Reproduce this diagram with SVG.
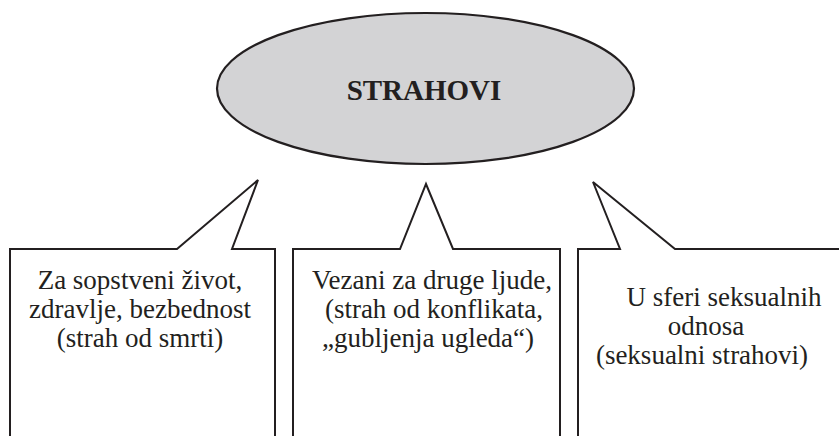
<svg xmlns="http://www.w3.org/2000/svg" width="839" height="436" viewBox="0 0 839 436">
<style>
.box{fill:#fff;stroke:#231f20;stroke-width:2;stroke-linejoin:miter}
.t{font-family:"Liberation Serif","Times New Roman",serif;font-size:27px;fill:#231f20;text-anchor:middle}
.title{font-family:"Liberation Serif","Times New Roman",serif;font-size:29px;font-weight:bold;fill:#231f20;text-anchor:middle}
</style>
<rect width="839" height="436" fill="#fff"/>
<g id="strahovi">
<ellipse cx="425.5" cy="88.5" rx="208.5" ry="75.5" fill="#d3d3d5" stroke="#231f20" stroke-width="2.2"/>
<text class="title" x="424" y="100">STRAHOVI</text>
</g>
<g id="connectors"></g>
<g id="box1">
<path class="box" d="M10,440 V249 H177 L258,180 L232,249 H275 V440"/>
<text class="t" x="140" y="289">Za sopstveni život,</text>
<text class="t" x="140" y="318">zdravlje, bezbednost</text>
<text class="t" x="140" y="347">(strah od smrti)</text>
</g>
<g id="box2">
<path class="box" d="M293,440 V249 H400 L426,184 L453,249 H560 V440"/>
<text class="t" x="432" y="289">Vezani za druge ljude,</text>
<text class="t" x="434" y="318">(strah od konflikata,</text>
<text class="t" x="428" y="347">„gubljenja ugleda“)</text>
</g>
<g id="box3">
<path class="box" d="M578,440 V249 H620 L593,182 L675,249 H845"/>
<text class="t" x="724" y="306">U sferi seksualnih</text>
<text class="t" x="706" y="335">odnosa</text>
<text class="t" x="702" y="364">(seksualni strahovi)</text>
</g>
</svg>
